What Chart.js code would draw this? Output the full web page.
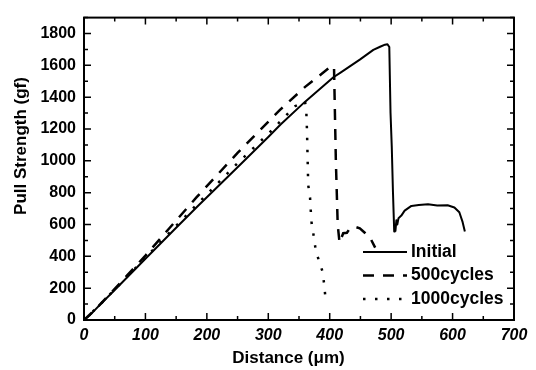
<!DOCTYPE html>
<html>
<head>
<meta charset="utf-8">
<script src="https://cdn.jsdelivr.net/npm/chart.js@4/dist/chart.umd.min.js"></script>
<style>
  body { margin: 0; background: #fff; }
</style>
</head>
<body>
<canvas id="pullChart" width="536" height="370"></canvas>
<script>
// values
const initialX = [0, 10, 25, 50, 100, 150, 185, 250, 300, 320, 360, 406, 417, 449, 471, 482, 490, 494, 497, 499, 501, 503, 505, 506, 507, 508.5, 510, 512, 516.6, 522, 533, 545, 560, 575, 592, 603, 611, 616, 620];
const initialY = [0, 32, 92, 188, 385, 580, 715, 960, 1150, 1228, 1372, 1525, 1553, 1636, 1697, 1717, 1730, 1733, 1715, 1300, 1091, 800, 556, 600, 560, 626, 600, 640, 656, 687, 717, 722, 727, 720, 721, 707, 677, 620, 556];

const cycles500X = [0, 20, 50, 100, 150, 183, 250, 319, 360, 403, 407, 410, 413, 416, 422, 428, 433, 441, 449, 458, 466, 474];
const cycles500Y = [0, 72, 195, 405, 625, 770, 1050, 1320, 1465, 1596, 1590, 1000, 600, 485, 545, 548, 576, 586, 576, 545, 515, 455];

const cycles1000X = [0, 25, 50, 100, 150, 200, 250, 300, 343.5, 359.8, 362, 363, 365, 368, 369, 370.6, 374, 377, 383, 388.5, 391, 393];
const cycles1000Y = [0, 92, 192, 392, 592, 790, 985, 1170, 1343, 1374, 1300, 1192, 848, 768, 697, 606, 527, 444, 364, 303, 222, 141];

const seriesNames = ['Initial', '500cycles', '1000cycles'];
const xTicks = [0, 100, 200, 300, 400, 500, 600, 700];
const yTicks = [0, 200, 400, 600, 800, 1000, 1200, 1400, 1600, 1800];

const toPoints = (xs, ys) => xs.map((v, i) => ({ x: v, y: ys[i] }));

const boldFont = size => ({ family: "'Liberation Sans', Arial, sans-serif", size: size, weight: 'bold' });

// frame, inward ticks on all four sides, axis titles and the legend inside the plot
const framePlugin = {
    id: 'frame',
    afterDatasetsDraw(chart) {
        const { ctx, chartArea: a, scales: { x, y } } = chart;
        ctx.save();
        ctx.strokeStyle = '#000';
        ctx.setLineDash([]);

        ctx.lineWidth = 1.5;
        ctx.beginPath();
        for (let v = 0; v <= 700; v += 50) {
            const px = x.getPixelForValue(v);
            const len = v % 100 === 0 ? 7 : 4;
            ctx.moveTo(px, a.bottom); ctx.lineTo(px, a.bottom - len);
            ctx.moveTo(px, a.top); ctx.lineTo(px, a.top + len);
        }
        for (let v = 0; v <= 1900; v += 100) {
            const py = y.getPixelForValue(v);
            const len = v % 200 === 0 ? 7 : 4;
            ctx.moveTo(a.left, py); ctx.lineTo(a.left + len, py);
            ctx.moveTo(a.right, py); ctx.lineTo(a.right - len, py);
        }
        ctx.stroke();

        ctx.lineWidth = 2;
        ctx.strokeRect(a.left, a.top, a.right - a.left, a.bottom - a.top);

        // axis titles
        ctx.fillStyle = '#000';
        ctx.font = "bold 17px 'Liberation Sans', Arial, sans-serif";
        ctx.textAlign = 'center';
        ctx.textBaseline = 'middle';
        ctx.fillText('Distance (\u03bcm)', 288.5, 358);
        ctx.save();
        ctx.translate(21, 146);
        ctx.rotate(-Math.PI / 2);
        ctx.fillText('Pull Strength (gf)', 0, 0);
        ctx.restore();

        // legend
        ctx.font = "bold 17.5px 'Liberation Sans', Arial, sans-serif";
        ctx.textAlign = 'left';
        chart.data.datasets.forEach((ds, i) => {
            const rowY = 252 + 23.5 * i;
            ctx.lineWidth = ds.borderWidth;
            ctx.setLineDash(ds.borderDash || []);
            ctx.beginPath();
            ctx.moveTo(363, rowY);
            ctx.lineTo(407, rowY);
            ctx.stroke();
            ctx.setLineDash([]);
            ctx.fillText(ds.label, 411, rowY);
        });
        ctx.restore();
    }
};

new Chart(document.getElementById('pullChart'), {
    type: 'line',
    data: {
        datasets: [
            {
                label: seriesNames[0],
                data: toPoints(initialX, initialY),
                borderColor: '#000',
                borderWidth: 2,
                borderJoinStyle: 'round'
            },
            {
                label: seriesNames[1],
                data: toPoints(cycles500X, cycles500Y),
                borderColor: '#000',
                borderWidth: 2.5,
                borderDash: [11, 9]
            },
            {
                label: seriesNames[2],
                data: toPoints(cycles1000X, cycles1000Y),
                borderColor: '#000',
                borderWidth: 2.5,
                borderDash: [2.5, 9.5]
            }
        ]
    },
    options: {
        responsive: false,
        animation: false,
        layout: { padding: { top: 6, right: 22, left: 0, bottom: 0 } },
        elements: { point: { radius: 0 }, line: { tension: 0 } },
        scales: {
            x: {
                type: 'linear',
                min: 0,
                max: 700,
                afterBuildTicks: s => { s.ticks = xTicks.map(v => ({ value: v })); },
                afterFit: s => { s.height = 50; },
                grid: { display: false, drawTicks: false },
                border: { display: false },
                ticks: {
                    color: '#000',
                    padding: 6,
                    maxRotation: 0,
                    callback: v => String(v),
                    font: { family: "'Liberation Sans', Arial, sans-serif", size: 16, weight: 'bold', style: 'italic' }
                }
            },
            y: {
                min: 0,
                max: 1900,
                afterBuildTicks: s => { s.ticks = yTicks.map(v => ({ value: v })); },
                afterFit: s => { s.width = 84; },
                grid: { display: false, drawTicks: false },
                border: { display: false },
                ticks: {
                    color: '#000',
                    padding: 8,
                    callback: v => String(v),
                    font: boldFont(16)
                }
            }
        },
        plugins: {
            legend: { display: false },
            tooltip: { enabled: false }
        }
    },
    plugins: [framePlugin]
});
</script>
</body>
</html>
